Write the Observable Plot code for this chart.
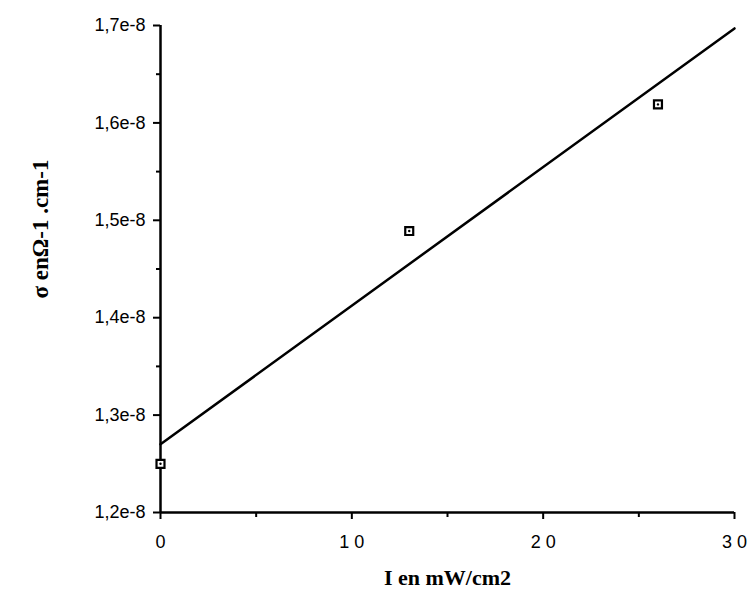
<!DOCTYPE html>
<html>
<head>
<meta charset="utf-8">
<script src="https://cdn.jsdelivr.net/npm/d3@7"></script>
<script src="https://cdn.jsdelivr.net/npm/@observablehq/plot@0.6"></script>
<style>
  html, body { margin: 0; padding: 0; background: #fff; }
  #chart svg { display: block; }
</style>
</head>
<body>
<div id="chart"></div>
<script>
// Measured points: intensity (mW/cm2) and conductivity (Ω-1.cm-1)
const intensity = [0, 13, 26];
const sigma = [1.25e-8, 1.489e-8, 1.619e-8];
// Fitted straight line endpoints
const fitX = [0, 30];
const fitY = [1.27e-8, 1.697e-8];
// Axis ticks
const xTicks = [0, 10, 20, 30];
const xMinor = [5, 15, 25];
const yTicks = [1.2e-8, 1.3e-8, 1.4e-8, 1.5e-8, 1.6e-8, 1.7e-8];
const yMinor = [1.25e-8, 1.35e-8, 1.45e-8, 1.55e-8, 1.65e-8];
const xTickLabels = ["0", "1 0", "2 0", "3 0"];
const xLabel = "I en mW/cm2";
const yLabel = "σ enΩ-1 .cm-1";

const points = intensity.map((x, i) => ({x, y: sigma[i]}));
const fit = fitX.map((x, i) => ({x, y: fitY[i]}));
const yFmt = d => d3.format(".1e")(d).replace(".", ",");
const sans = "Liberation Sans, Arial, sans-serif";
const serif = "Liberation Serif, Times New Roman, serif";

const chart = Plot.plot({
  width: 752,
  height: 597,
  marginLeft: 160,
  marginRight: 18,
  marginTop: 25,
  marginBottom: 85,
  style: {fontFamily: sans, color: "#000", background: "#fff"},
  x: {domain: [0, 30]},
  y: {domain: [1.2e-8, 1.7e-8]},
  marks: [
    Plot.axisY({ticks: yTicks, tickSize: 7, tickFormat: () => "", label: null, strokeWidth: 2}),
    Plot.axisY({ticks: yMinor, tickSize: 4, tickFormat: () => "", label: null, strokeWidth: 2}),
    Plot.axisX({ticks: xTicks, tickSize: 7, tickFormat: () => "", label: null, strokeWidth: 2}),
    Plot.axisX({ticks: xMinor, tickSize: 5, tickFormat: () => "", label: null, strokeWidth: 2}),
    Plot.text(yTicks, {x: 0, y: d => d, text: yFmt, textAnchor: "end", dx: -15, fontSize: 18, fontFamily: sans}),
    Plot.text(xTicks, {x: d => d, y: 1.2e-8, text: (d, i) => xTickLabels[i], dy: 30, dx: 0, fontSize: 18, fontFamily: sans}),
    Plot.ruleX([0], {strokeWidth: 2.5}),
    Plot.ruleY([1.2e-8], {strokeWidth: 2.5}),
    Plot.line(fit, {x: "x", y: "y", strokeWidth: 2.5, stroke: "#000"}),
    Plot.dot(points, {x: "x", y: "y", symbol: "square", r: 4.5, stroke: "#000", strokeWidth: 2.2, fill: "#fff"}),
    Plot.dot(points, {x: "x", y: "y", r: 1.2, fill: "#000"}),
    Plot.text([xLabel], {frameAnchor: "bottom", dy: 72, textAnchor: "middle", text: d => d, fontFamily: serif, fontWeight: "bold", fontSize: 22}),
    Plot.text([yLabel], {frameAnchor: "left", dx: -120, dy: -40, textAnchor: "middle", rotate: -90, text: d => d, fontFamily: serif, fontWeight: "bold", fontSize: 23})
  ]
});
document.getElementById("chart").appendChild(chart);
</script>
</body>
</html>
